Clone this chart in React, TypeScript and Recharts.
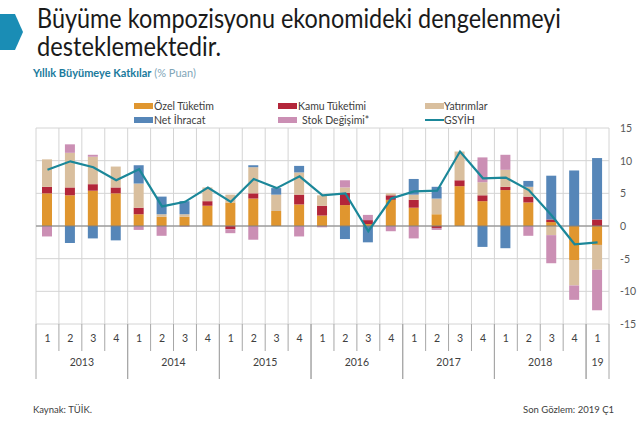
import React from 'react';
import { ComposedChart, Bar, Line, XAxis, YAxis, CartesianGrid, ReferenceLine } from 'recharts';

// ---- data ----
const quarters = ['1', '2', '3', '4', '1', '2', '3', '4', '1', '2', '3', '4', '1', '2', '3', '4', '1', '2', '3', '4', '1', '2', '3', '4', '1'];
const quarterYears = ['2013', '2013', '2013', '2013', '2014', '2014', '2014', '2014', '2015', '2015', '2015', '2015', '2016', '2016', '2016', '2016', '2017', '2017', '2017', '2017', '2018', '2018', '2018', '2018', '19'];
const ozelTuketim = [5.0, 4.7, 5.4, 5.0, 1.8, 1.4, 1.4, 3.1, 3.6, 4.2, 2.3, 3.3, 1.6, 3.2, 0.3, 4.0, 2.8, 1.8, 6.1, 3.8, 5.5, 3.6, 0.6, -5.2, -2.9];
const kamuTuketimi = [1.0, 1.2, 1.0, 0.9, 1.0, 0.0, 0.0, 0.7, -0.5, 0.8, 0.0, 1.5, 1.5, 1.9, 0.6, 0.7, 1.2, -0.3, 0.9, 0.9, 0.5, 0.9, 0.4, 0.0, 1.0];
const yatirimlar = [4.2, 5.3, 4.2, 3.2, 3.7, 0.4, 0.4, 2.1, 1.2, 4.0, 2.5, 3.4, 1.6, 0.8, 0.0, 0.3, 0.8, 2.4, 4.4, 2.0, 2.6, 1.5, -1.4, -3.9, -3.8];
const netIhracat = [0.0, -2.6, -1.9, -2.2, 2.8, 2.7, 2.0, 0.0, 0.0, 0.3, 1.0, 1.0, 0.0, -2.0, -2.5, 0.0, 2.4, 1.8, 0.0, -3.2, -3.4, 0.9, 6.7, 8.5, 9.4];
const stokDegisimi = [-1.6, 1.3, 0.3, 0.0, -0.6, -1.5, -0.1, 0.0, -0.6, -2.1, 0.0, -1.6, -0.2, 1.1, 0.8, -0.8, -1.9, -0.3, 0.0, 3.8, 2.3, -1.5, -4.3, -2.2, -6.2];
const gsyih = [8.6, 9.9, 9.0, 7.0, 8.7, 3.0, 3.7, 5.9, 3.7, 7.2, 5.8, 7.6, 4.7, 5.0, -0.8, 4.2, 5.3, 5.4, 11.4, 7.3, 7.4, 5.5, 1.6, -2.8, -2.5];
const yTicks = [15, 10, 5, 0, -5, -10, -15];

const seriesNames = {
  ozel: 'Özel Tüketim',
  kamu: 'Kamu Tüketimi',
  yat: 'Yatırımlar',
  net: 'Net İhracat',
  stok: 'Stok Değişimi*',
  gdp: 'GSYİH',
};

const keys = quarters.map((q, i) => `${quarterYears[i]}-${q}-${i}`);
const data = keys.map((k, i) => ({
  key: k,
  ozel: ozelTuketim[i],
  kamu: kamuTuketimi[i],
  yat: yatirimlar[i],
  net: netIhracat[i],
  stok: stokDegisimi[i],
  gdp: gsyih[i],
}));

// ---- styles ----
const C_OZEL = '#E0962F';
const C_KAMU = '#B3263A';
const C_YAT = '#D9BF9E';
const C_NET = '#5686B8';
const C_STOK = '#CB8FB4';
const C_GDP = '#1B8799';
const C_GRID = '#D4D4D4';
const C_TEXT = '#404040';
const FONT = 'Lato, "Open Sans", sans-serif';

const CHART_W = 640;
const CHART_H = 428;
const PLOT_LEFT = 36;
const PLOT_RIGHT = 609;
const PLOT_TOP = 128;
const PLOT_BOTTOM = 324;
const X_AXIS_H = 55;
const Q_ROW_H = 27;
const BAND = (PLOT_RIGHT - PLOT_LEFT) / quarters.length;

const QuarterTick = (props: any) => {
  const { x, payload } = props;
  const i = keys.indexOf(payload.value);
  if (i < 0) return null;
  const yr = quarterYears[i];
  const isStart = i === 0 || quarterYears[i - 1] !== yr;
  const isEnd = i === quarters.length - 1 || quarterYears[i + 1] !== yr;
  let groupSize = 0;
  for (let j = i; j < quarterYears.length && quarterYears[j] === yr; j++) groupSize++;
  const left = x - BAND / 2;
  const right = x + BAND / 2;
  const top = PLOT_BOTTOM;
  return (
    <g>
      {isStart && <line x1={left} x2={left} y1={top} y2={top + X_AXIS_H} stroke="#A6A6A6" strokeWidth={1} />}
      <line x1={right} x2={right} y1={top} y2={top + (isEnd ? X_AXIS_H : Q_ROW_H)} stroke="#A6A6A6" strokeWidth={1} />
      <text x={x} y={top + 18} textAnchor="middle" fontSize={10.5} fill={C_TEXT} fontFamily={FONT}>{quarters[i]}</text>
      {isStart && (
        <text x={left + (groupSize * BAND) / 2} y={top + 42} textAnchor="middle" fontSize={10.5} fill={C_TEXT} fontFamily={FONT}>{yr}</text>
      )}
    </g>
  );
};

const ValueTick = (props: any) => {
  const { y, payload } = props;
  return (
    <text x={PLOT_RIGHT + 11} y={y + 4} textAnchor="start" fontSize={10.5} fill="#595959" fontFamily={FONT}>{payload.value}</text>
  );
};

const Overlay = () => (
  <svg width={CHART_W} height={CHART_H} style={{ position: 'absolute', left: 0, top: 0, pointerEvents: 'none' }}>
    <polygon points="0,14 15,14 23,32 15,50 0,50" fill="#1A8DB5" />
    <text x={37} y={28} fontSize={27} fill="#1a1a1a" fontFamily={FONT} textLength={524} lengthAdjust="spacingAndGlyphs">Büyüme kompozisyonu ekonomideki dengelenmeyi</text>
    <text x={37} y={56} fontSize={27} fill="#1a1a1a" fontFamily={FONT} textLength={184} lengthAdjust="spacingAndGlyphs">desteklemektedir.</text>
    <text x={33} y={77} fontSize={11} fontFamily={FONT}>
      <tspan fill="#1A7A9C" fontWeight={700}>Yıllık Büyümeye Katkılar</tspan>
      <tspan fill="#7FA6B8"> (% Puan)</tspan>
    </text>
    {/* legend */}
    <g fontFamily={FONT} fontSize={10.5} fill={C_TEXT}>
      <rect x={134} y={103} width={19} height={6} fill={C_OZEL} />
      <text x={154} y={110}>{seriesNames.ozel}</text>
      <rect x={278} y={103} width={19} height={6} fill={C_KAMU} />
      <text x={298} y={110}>{seriesNames.kamu}</text>
      <rect x={425} y={103} width={19} height={6} fill={C_YAT} />
      <text x={444} y={110}>{seriesNames.yat}</text>
      <rect x={134} y={117} width={19} height={6} fill={C_NET} />
      <text x={154} y={124}>{seriesNames.net}</text>
      <rect x={278} y={117} width={19} height={6} fill={C_STOK} />
      <text x={302} y={124}>{seriesNames.stok}</text>
      <line x1={425} x2={444} y1={120} y2={120} stroke={C_GDP} strokeWidth={2} />
      <text x={444} y={124}>{seriesNames.gdp}</text>
    </g>
    <text x={33} y={413} fontSize={9.5} fill={C_TEXT} fontFamily={FONT}>Kaynak: TÜİK.</text>
    <text x={614} y={413} fontSize={9.5} fill={C_TEXT} fontFamily={FONT} textAnchor="end">Son Gözlem: 2019 Ç1</text>
  </svg>
);

export default function App() {
  return (
    <div style={{ position: 'absolute', left: 0, top: 0, width: CHART_W, height: CHART_H, background: '#fff' }}>
      <ComposedChart
        width={CHART_W}
        height={CHART_H}
        data={data}
        stackOffset="sign"
        barCategoryGap={0}
        margin={{ top: PLOT_TOP, right: 0, left: PLOT_LEFT, bottom: CHART_H - PLOT_BOTTOM - X_AXIS_H }}
      >
        <CartesianGrid
          stroke={C_GRID}
          strokeWidth={1}
          verticalCoordinatesGenerator={({ offset }: any) =>
            Array.from({ length: quarters.length + 1 }, (_, i) => offset.left + (i * offset.width) / quarters.length)
          }
        />
        <XAxis
          dataKey="key"
          type="category"
          interval={0}
          axisLine={false}
          tickLine={false}
          height={X_AXIS_H}
          tick={<QuarterTick />}
        />
        <YAxis
          orientation="right"
          type="number"
          domain={[-15, 15]}
          ticks={yTicks}
          interval={0}
          width={CHART_W - PLOT_RIGHT}
          axisLine={false}
          tickLine={false}
          tick={<ValueTick />}
        />
        <ReferenceLine y={0} stroke="#7F7F7F" strokeWidth={1} />
        <Bar dataKey="ozel" name={seriesNames.ozel} stackId="s" fill={C_OZEL} barSize={10} isAnimationActive={false} />
        <Bar dataKey="kamu" name={seriesNames.kamu} stackId="s" fill={C_KAMU} barSize={10} isAnimationActive={false} />
        <Bar dataKey="yat" name={seriesNames.yat} stackId="s" fill={C_YAT} barSize={10} isAnimationActive={false} />
        <Bar dataKey="net" name={seriesNames.net} stackId="s" fill={C_NET} barSize={10} isAnimationActive={false} />
        <Bar dataKey="stok" name={seriesNames.stok} stackId="s" fill={C_STOK} barSize={10} isAnimationActive={false} />
        <Line dataKey="gdp" name={seriesNames.gdp} type="linear" stroke={C_GDP} strokeWidth={2.2} dot={false} isAnimationActive={false} />
      </ComposedChart>
      <Overlay />
    </div>
  );
}
